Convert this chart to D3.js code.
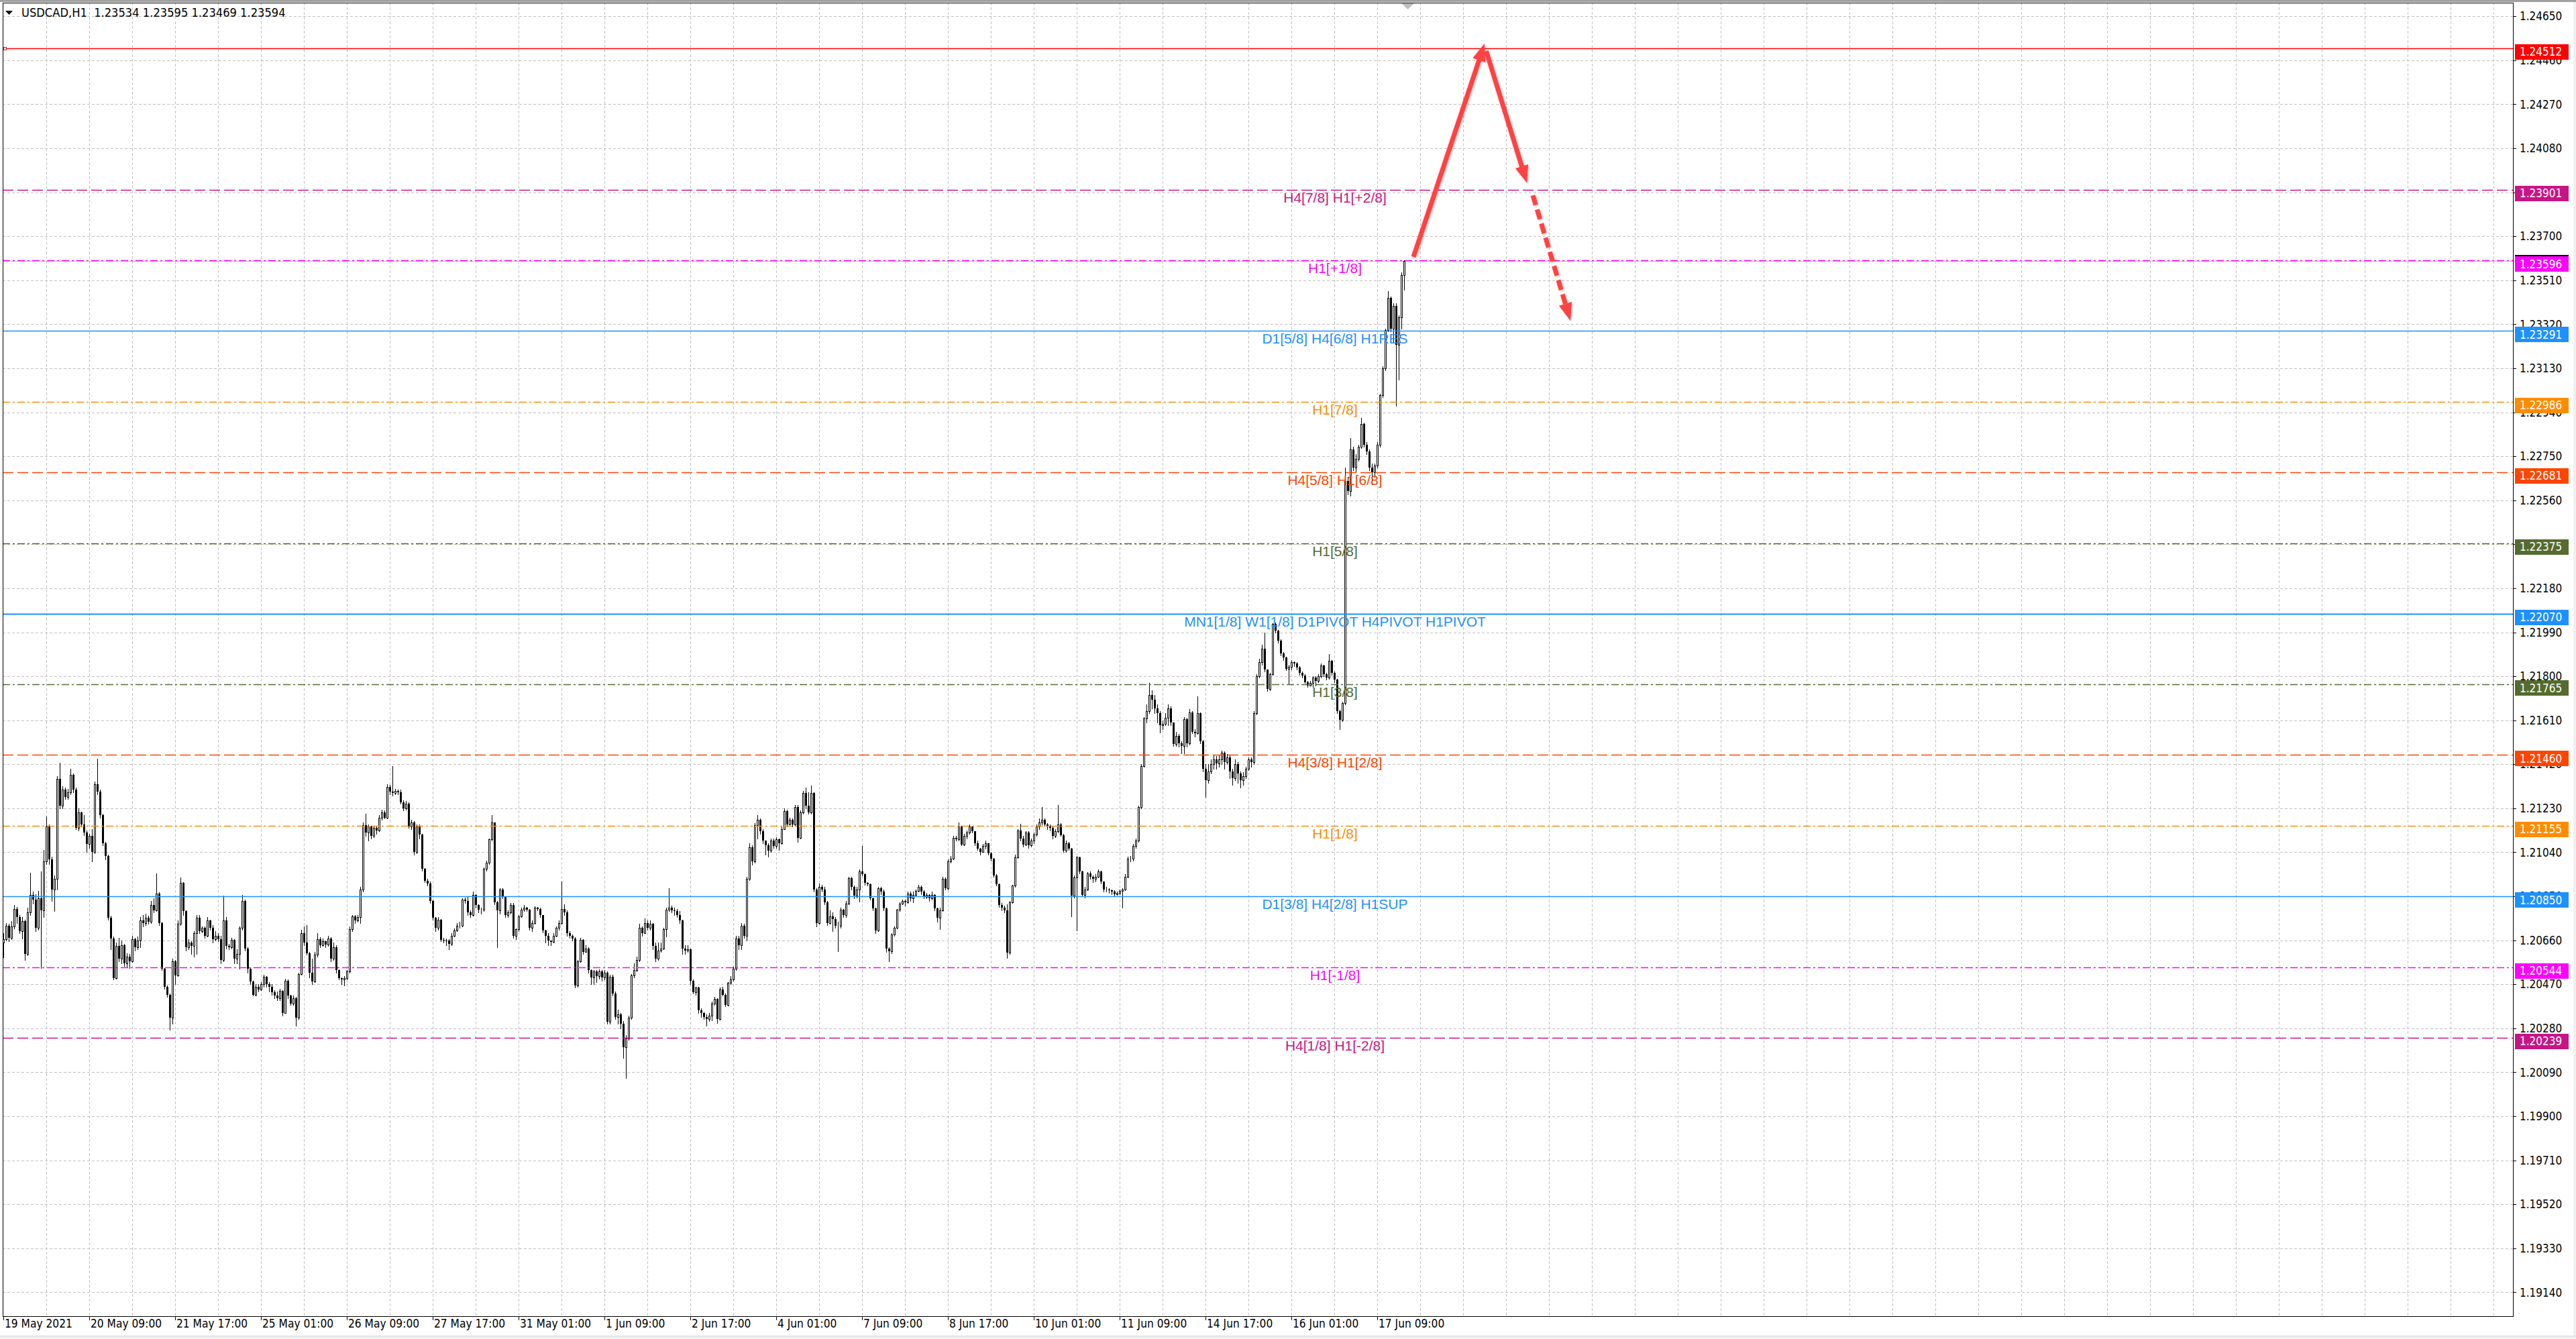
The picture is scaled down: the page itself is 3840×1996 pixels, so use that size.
<!DOCTYPE html>
<html><head><meta charset="utf-8">
<script src="https://cdn.jsdelivr.net/npm/d3@7"></script>
<style>
html,body{margin:0;padding:0;background:#F0F0F0;overflow:hidden;}
svg{display:block;}
</style></head><body>
<svg id="c" width="3840" height="1996"></svg>
<script>
// ---------------- DATA (USDCAD H1, prices in points above 1.20000) ----------------
const symbolTitle = "USDCAD,H1  1.23534 1.23595 1.23469 1.23594";
const firstOpen = 650;
const closes = [
665,724,670,720,795,760,700,742,600,780,
855,835,715,840,790,1000,1150,1010,880,924,
1357,1240,1312,1280,1300,1373,1312,1146,1212,1160,
1124,1075,1110,1040,1334,1301,1201,1079,1024,758,
669,497,636,580,640,560,590,570,664,630,
660,746,735,758,740,813,790,863,735,536,
458,425,325,569,508,730,907,785,630,650,
636,690,758,700,713,680,746,713,665,680,
665,575,746,636,630,663,580,600,713,830,
624,536,481,425,458,448,470,503,470,460,
436,420,409,442,347,486,420,387,410,325,
514,691,650,603,520,481,597,664,640,655,
641,669,580,630,531,497,491,497,525,708,
763,745,760,880,1157,1124,1150,1110,1146,1135,
1190,1212,1190,1323,1301,1295,1305,1300,1257,1230,
1251,1151,1170,1040,1150,1118,968,918,905,830,
758,713,750,663,660,658,645,680,702,724,
724,835,830,780,770,857,813,791,791,968,
996,1096,1168,824,790,880,846,769,780,813,
680,708,763,791,802,791,713,735,800,796,
769,702,680,658,652,680,713,735,796,780,
691,680,669,464,569,663,610,625,530,500,
525,505,525,500,520,309,503,431,330,340,
300,198,236,325,508,530,575,713,691,735,
713,730,636,580,615,625,708,791,802,790,
785,770,746,624,615,620,486,436,455,359,
345,330,320,335,386,408,320,447,425,381,
475,491,536,669,640,724,680,924,1062,1000,
1157,1180,1130,1090,1070,1046,1090,1068,1095,1080,
1140,1218,1160,1180,1160,1234,1102,1212,1295,1240,
1212,1295,880,735,891,880,824,735,763,752,
724,724,791,769,819,929,890,852,880,957,
946,907,902,841,797,702,886,870,797,624,
613,685,713,791,819,830,824,863,841,857,
874,891,870,846,856,841,857,797,758,790,
924,885,1001,1013,1101,1096,1150,1074,1110,1124,
1150,1130,1080,1057,1040,1068,1079,1035,1013,941,
902,813,802,790,608,825,896,1019,1135,1100,
1074,1124,1070,1090,1118,1151,1170,1180,1160,1150,
1145,1110,1130,1160,1115,1046,1080,1057,852,930,
1018,957,857,880,950,935,924,935,957,913,
880,880,875,870,860,865,872,880,935,1013,
1013,1068,1090,1234,1412,1617,1650,1720,1700,1660,
1640,1590,1595,1620,1661,1600,1509,1543,1510,1500,
1616,1510,1644,1560,1555,1640,1519,1400,1350,1390,
1420,1440,1425,1440,1470,1430,1450,1390,1360,1420,
1380,1350,1370,1400,1440,1430,1640,1799,1862,1920,
1828,1746,1809,2026,1997,1954,1900,1881,1833,1840,
1860,1855,1838,1814,1804,1775,1761,1770,1794,1780,
1799,1847,1810,1794,1867,1814,1785,1649,1611,1683,
2644,2600,2780,2700,2740,2790,2890,2800,2770,2700,
2680,2710,2799,3013,3131,3294,3434,3300,3400,3230,
3350,3534,3594];
const highs = [
690,735,730,742,812,805,768,760,748,800,
952,870,860,872,957,1050,1196,1160,1020,940,
1370,1428,1325,1320,1315,1401,1380,1320,1230,1215,
1200,1135,1120,1140,1345,1445,1310,1205,1085,1030,
765,675,650,670,660,645,605,600,680,670,
675,760,770,775,765,830,840,950,868,740,
540,465,430,580,575,745,930,910,790,665,
655,700,770,770,720,720,760,750,725,700,
690,680,852,760,645,670,665,620,720,857,
835,630,540,485,470,470,480,510,505,480,
470,445,440,450,445,495,490,425,420,415,
520,705,720,725,610,580,610,690,672,668,
660,680,672,650,640,535,500,505,530,720,
770,770,770,890,1170,1207,1160,1155,1150,1150,
1200,1225,1220,1335,1330,1412,1315,1312,1310,1265,
1262,1255,1180,1175,1160,1160,1120,972,925,915,
835,760,760,752,670,668,665,690,710,735,
740,840,845,850,790,870,860,815,800,975,
1005,1100,1201,1170,830,885,885,850,790,820,
820,712,770,800,812,805,795,745,808,805,
800,770,705,690,660,690,720,745,913,815,
790,700,685,672,575,670,665,640,630,535,
530,530,535,530,530,525,510,510,440,360,
345,310,250,335,515,560,590,730,720,755,
745,745,735,650,650,650,715,800,885,810,
800,795,785,750,640,640,625,490,460,458,
365,350,340,345,395,415,410,455,460,430,
480,505,545,680,680,735,730,935,1080,1070,
1165,1200,1185,1140,1090,1080,1100,1100,1105,1100,
1150,1230,1225,1190,1185,1245,1245,1220,1305,1318,
1300,1329,1300,885,905,900,890,830,790,780,
760,740,800,795,830,935,935,895,890,965,
1068,950,912,905,845,800,890,890,880,800,
630,690,720,795,825,835,835,870,870,870,
880,900,895,875,865,860,870,860,800,800,
935,930,1010,1025,1110,1112,1170,1155,1120,1135,
1160,1155,1130,1090,1060,1075,1090,1080,1040,1015,
945,905,820,810,815,830,900,1030,1140,1162,
1110,1130,1130,1100,1125,1160,1185,1234,1185,1165,
1160,1150,1140,1245,1165,1120,1090,1085,1060,940,
1025,1020,960,890,955,957,940,945,965,960,
915,890,885,880,875,870,880,885,945,1020,
1025,1075,1100,1240,1420,1625,1680,1772,1740,1720,
1680,1650,1610,1640,1680,1670,1600,1560,1550,1520,
1625,1620,1659,1650,1570,1712,1645,1525,1420,1420,
1440,1461,1455,1460,1480,1475,1465,1460,1400,1440,
1430,1390,1385,1410,1450,1450,1650,1810,1875,1935,
1988,1830,1815,2030,2031,2000,1960,1905,1885,1850,
1870,1865,1862,1845,1820,1810,1780,1780,1800,1800,
1810,1855,1850,1815,1895,1870,1820,1790,1655,1690,
2700,2660,2828,2790,2760,2800,2917,2895,2810,2780,
2720,2720,2810,3020,3140,3300,3464,3440,3410,3410,
3360,3545,3595];
const lows = [
586,660,655,665,712,735,690,668,575,595,
770,818,700,705,541,760,990,990,830,785,
880,1230,1230,1270,1270,1290,1300,1140,1135,1150,
1115,1040,1060,1002,1035,1290,1190,1070,1010,750,
620,490,495,570,560,550,545,540,565,615,
620,630,720,725,730,735,780,785,725,530,
450,415,275,300,470,505,725,770,615,620,
600,590,600,690,695,670,675,705,650,660,
655,560,570,625,620,625,560,560,536,705,
615,520,470,420,420,440,445,460,460,440,
425,410,400,400,335,345,410,380,380,292,
320,510,640,598,500,470,478,590,630,635,
630,635,570,575,520,490,470,465,490,520,
700,735,740,735,870,1110,1090,1100,1105,1120,
1130,1180,1185,1185,1290,1285,1290,1290,1250,1220,
1225,1145,1140,1030,1035,1100,960,910,895,820,
750,700,705,655,650,640,620,640,675,700,
715,720,820,770,760,765,800,780,775,785,
960,990,1090,815,630,775,840,760,760,775,
670,665,700,760,785,785,705,700,730,790,
760,695,650,640,640,650,675,705,730,770,
680,670,660,455,460,565,600,610,520,470,
470,480,495,485,490,300,300,420,320,300,
280,153,64,230,320,500,525,570,680,690,
705,705,620,570,575,610,620,675,785,780,
770,760,735,600,600,610,470,430,425,345,
330,320,292,310,315,380,303,318,420,375,
378,470,485,530,620,620,670,660,920,985,
995,1100,1120,1080,1030,1020,1040,1060,1060,1050,
1075,1140,1150,1160,1150,1155,1085,1100,1205,1230,
1205,1205,870,720,730,870,815,725,730,700,
715,613,715,760,760,815,880,840,845,826,
940,900,895,835,790,690,700,860,790,610,
569,605,680,710,785,815,810,820,830,825,
850,870,860,840,840,830,835,790,740,708,
785,880,880,995,1010,1090,1090,1070,1070,1100,
1120,1125,1070,1050,1030,1040,1055,1030,1005,935,
895,805,790,780,585,600,820,890,1015,1090,
1065,1070,1060,1065,1080,1110,1140,1160,1155,1140,
1135,1100,1105,1125,1110,1040,1040,1050,763,845,
702,950,850,845,875,925,910,915,930,905,
870,870,865,860,850,855,860,802,875,930,
1000,1005,1060,1085,1230,1410,1600,1640,1660,1640,
1600,1556,1570,1590,1590,1590,1500,1500,1495,1467,
1467,1495,1505,1555,1540,1550,1510,1390,1279,1340,
1380,1400,1400,1410,1420,1400,1420,1360,1330,1350,
1340,1320,1330,1360,1395,1410,1420,1635,1795,1850,
1820,1736,1740,1805,1990,1945,1890,1870,1825,1765,
1830,1845,1830,1805,1795,1770,1755,1760,1755,1760,
1775,1795,1800,1785,1790,1805,1775,1640,1572,1605,
1680,2585,2580,2690,2680,2730,2785,2790,2760,2690,
2629,2660,2700,2790,3005,3120,3290,3290,3240,2969,
3080,3300,3469];

const priceTicks = [1.24650,1.24460,1.24270,1.24080,1.23890,1.23700,1.23510,1.23320,1.23130,1.22940,
  1.22750,1.22560,1.22370,1.22180,1.21990,1.21800,1.21610,1.21420,1.21230,1.21040,
  1.20850,1.20660,1.20470,1.20280,1.20090,1.19900,1.19710,1.19520,1.19330,1.19140];
const timeLabels = ["19 May 2021","20 May 09:00","21 May 17:00","25 May 01:00","26 May 09:00","27 May 17:00",
  "31 May 01:00","1 Jun 09:00","2 Jun 17:00","4 Jun 01:00","7 Jun 09:00","8 Jun 17:00","10 Jun 01:00",
  "11 Jun 09:00","14 Jun 17:00","16 Jun 01:00","17 Jun 09:00"];
const timeLabelBars = [0,32,64,96,128,160,192,224,256,288,320,352,384,416,448,480,512];

const levelPrices = [1.24512,1.23901,1.23596,1.23291,1.22986,1.22681,1.22375,1.22070,1.21765,1.21460,1.21155,1.20850,1.20544,1.20239];
const levelTexts = ["","H4[7/8] H1[+2/8]","H1[+1/8]","D1[5/8] H4[6/8] H1RES","H1[7/8]","H4[5/8] H1[6/8]","H1[5/8]",
  "MN1[1/8] W1[1/8] D1PIVOT H4PIVOT H1PIVOT","H1[3/8]","H4[3/8] H1[2/8]","H1[1/8]","D1[3/8] H4[2/8] H1SUP","H1[-1/8]","H4[1/8] H1[-2/8]"];
const levelKinds = ["target","plus2","plus1","res","o78","r68","g58","pivot","g38","r28","o18","sup","minus1","minus2"];
const bidPrice = 1.23594;

// forecast arrows: [barFrom, pointsFrom, barTo, pointsTo, dashed]
const arrowsData = [[525.5,3611,552,4532,0],[552.6,4500,567.8,3930,0],[570,3877,584,3336,1]];

// ---------------- STYLE / LAYOUT ----------------
const BASE = 1.2, PT = 1e-5;
const toPrice = v => BASE + v * PT;
const L = 4, R = 3746, T = 4, B = 1962;
const kindStyle = {
  target:{c:"#FF0000",dash:null,w:1.3},
  plus2:{c:"#C71585",dash:"16,6",w:1.3},
  minus2:{c:"#C71585",dash:"16,6",w:1.3},
  plus1:{c:"#FF00FF",dash:"11,4,3,4",w:1.3},
  minus1:{c:"#FF00FF",dash:"11,4,3,4",w:1.3},
  res:{c:"#1E90FF",dash:null,w:1.3},
  sup:{c:"#1E90FF",dash:null,w:1.3},
  pivot:{c:"#1E90FF",dash:null,w:2.2},
  o78:{c:"#FF8C00",dash:"11,4,3,4",w:1.3},
  o18:{c:"#FF8C00",dash:"11,4,3,4",w:1.3},
  r68:{c:"#FF4500",dash:"16,6",w:1.3},
  r28:{c:"#FF4500",dash:"16,6",w:1.3},
  g58:{c:"#556B2F",dash:"11,4,3,4",w:1.3},
  g38:{c:"#556B2F",dash:"11,4,3,4",w:1.3}
};
const labelBar = 496.25;
const axisFont = "'DejaVu Sans', Verdana, sans-serif";

const svg = d3.select('#c');
const x = d3.scaleLinear().domain([0, 935.25]).range([5, R]);
const y = d3.scaleLinear().domain([1.190366, 1.247088]).range([B, T]);

// window background
svg.append('rect').attr('x',0).attr('y',0).attr('width',3840).attr('height',1996).attr('fill','#F0F0F0');
svg.append('rect').attr('x',0).attr('y',3).attr('width',3836).attr('height',1988).attr('fill','#FFFFFF');
svg.append('rect').attr('x',0).attr('y',0).attr('width',3840).attr('height',3).attr('fill','#A0A0A0');
svg.append('line').attr('x1',0).attr('x2',3840).attr('y1',1991.5).attr('y2',1991.5).attr('stroke','#D8D8D8');

// grid
const grid = svg.append('g').attr('shape-rendering','crispEdges').attr('stroke','#C0C0C0').attr('stroke-dasharray','4,3');
grid.selectAll('line.h').data(priceTicks).join('line').attr('class','h')
  .attr('x1',L).attr('x2',R).attr('y1',d=>Math.round(y(d))+0.5).attr('y2',d=>Math.round(y(d))+0.5);
const vBars = d3.range(16, 935, 16);
grid.selectAll('line.v').data(vBars).join('line').attr('class','v')
  .attr('x1',d=>Math.round(x(d))+0.5).attr('x2',d=>Math.round(x(d))+0.5).attr('y1',T).attr('y2',B);

// bid line
svg.append('line').attr('x1',L).attr('x2',R).attr('y1',Math.round(y(bidPrice))+0.5).attr('y2',Math.round(y(bidPrice))+0.5)
  .attr('stroke','#C0C0C0').attr('shape-rendering','crispEdges');

// candles
const bars = closes.map((c,i)=>{
  const o = i ? closes[i-1] : firstOpen;
  return {i, o:toPrice(o), c:toPrice(c), h:toPrice(Math.max(highs[i],o,c)), l:toPrice(Math.min(lows[i],o,c))};
});
const cg = svg.append('g').attr('shape-rendering','crispEdges');
cg.selectAll('line').data(bars).join('line')
  .attr('x1',d=>Math.round(x(d.i))+0.5).attr('x2',d=>Math.round(x(d.i))+0.5)
  .attr('y1',d=>Math.round(y(d.h))).attr('y2',d=>Math.round(y(d.l))+1)
  .attr('stroke','#000').attr('stroke-width',1);
cg.selectAll('rect').data(bars).join('rect')
  .each(function(d){
    const cx = Math.round(x(d.i));
    const top = Math.round(Math.min(y(d.o),y(d.c))), bot = Math.round(Math.max(y(d.o),y(d.c)));
    const s = d3.select(this);
    if (d.c >= d.o) {
      s.attr('x',cx-0.5).attr('y',top+0.5).attr('width',2).attr('height',Math.max(bot-top,0))
       .attr('fill','#fff').attr('stroke','#000').attr('stroke-width',1);
    } else {
      s.attr('x',cx-1).attr('y',top).attr('width',3).attr('height',Math.max(bot-top,1)).attr('fill','#000');
    }
  });

// level lines
const levels = levelPrices.map((p,k)=>({p, text:levelTexts[k], st:kindStyle[levelKinds[k]]}));
const lg = svg.append('g');
lg.selectAll('line').data(levels).join('line')
  .attr('x1',L).attr('x2',R).attr('y1',d=>Math.round(y(d.p))+0.5).attr('y2',d=>Math.round(y(d.p))+0.5)
  .attr('stroke',d=>d.st.c).attr('stroke-width',d=>d.st.w)
  .attr('stroke-dasharray',d=>d.st.dash);
lg.selectAll('text').data(levels.filter(d=>d.text)).join('text')
  .attr('x',x(labelBar)).attr('y',d=>y(d.p)+19)
  .attr('text-anchor','middle').attr('fill',d=>d.st.c)
  .style('font-family',"'Liberation Sans', Arial, sans-serif").style('font-size','21px')
  .text(d=>d.text);
// anchor square of the target line
svg.append('rect').attr('x',5.5).attr('y',Math.round(y(levelPrices[0]))-1.5).attr('width',4).attr('height',4)
  .attr('fill','#fff').attr('stroke','#FF0000');

// frame
svg.append('rect').attr('x',L+0.5).attr('y',T+0.5).attr('width',R-L).attr('height',B-T)
  .attr('fill','none').attr('stroke','#000').attr('shape-rendering','crispEdges');

// chart shift marker
svg.append('path').attr('d',`M${x(523.4)-9.5},5 L${x(523.4)+9.5},5 L${x(523.4)},14 Z`).attr('fill','#BEBEBE');

// y axis ticks and labels
const ya = svg.append('g');
ya.selectAll('line').data(priceTicks).join('line')
  .attr('x1',R).attr('x2',R+5).attr('y1',d=>Math.round(y(d))+0.5).attr('y2',d=>Math.round(y(d))+0.5)
  .attr('stroke','#000').attr('shape-rendering','crispEdges');
ya.selectAll('text').data(priceTicks).join('text')
  .attr('transform',d=>`translate(3756,${y(d)+6.2}) scale(0.9,1)`)
  .style('font-family',axisFont).style('font-size','17px').attr('fill','#000')
  .text(d=>d.toFixed(5));

// price label boxes
const boxes = [{p:bidPrice,c:'#000000',off:-9}].concat(levels.map(d=>({p:d.p,c:d.st.c,off:-6})));
const bg = svg.append('g');
boxes.forEach(b=>{
  const yy = y(b.p);
  bg.append('rect').attr('x',3749).attr('y',Math.round(yy+b.off)).attr('width',80).attr('height',23).attr('fill',b.c);
  bg.append('text').attr('transform',`translate(3756,${yy+b.off+17.5}) scale(0.9,1)`)
    .style('font-family',axisFont).style('font-size','17px').attr('fill','#fff').text(b.p.toFixed(5));
});

// x axis ticks & labels
const xa = svg.append('g');
xa.selectAll('line').data(timeLabelBars).join('line')
  .attr('x1',d=>Math.round(x(d))+0.5).attr('x2',d=>Math.round(x(d))+0.5).attr('y1',B).attr('y2',B+6)
  .attr('stroke','#000').attr('shape-rendering','crispEdges');
xa.selectAll('text').data(timeLabelBars).join('text')
  .attr('transform',d=>`translate(${x(d)+2},1979) scale(0.91,1)`)
  .style('font-family',axisFont).style('font-size','17px').attr('fill','#000')
  .text((d,k)=>timeLabels[k]);

// title
svg.append('path').attr('d','M8,16 L19,16 L13.5,22 Z').attr('fill','#000');
svg.append('text').attr('transform','translate(32,25) scale(0.96,1)')
  .attr('xml:space','preserve').style('white-space','pre')
  .style('font-family',axisFont).style('font-size','17px').attr('fill','#000').text(symbolTitle);

// forecast arrows
const defs = svg.append('defs');
const f = defs.append('filter').attr('id','sh').attr('x','-20%').attr('y','-20%').attr('width','140%').attr('height','140%');
f.append('feDropShadow').attr('dx',1.5).attr('dy',1.5).attr('stdDeviation',1.5).attr('flood-color','#000').attr('flood-opacity',0.25);
const ag = svg.append('g').attr('filter','url(#sh)');
arrowsData.forEach(a=>{
  const x1 = x(a[0]), y1 = y(toPrice(a[1])), x2 = x(a[2]), y2 = y(toPrice(a[3]));
  const dx = x2-x1, dy = y2-y1, len = Math.hypot(dx,dy), ux = dx/len, uy = dy/len;
  const hl = 26, hw = 10;
  const bx = x2-ux*hl, by = y2-uy*hl;
  ag.append('line').attr('x1',x1).attr('y1',y1).attr('x2',bx+ux*2).attr('y2',by+uy*2)
    .attr('stroke','#FF4343').attr('stroke-width',7).attr('stroke-dasharray',a[4]?'15,7':null);
  ag.append('path').attr('d',`M${x2},${y2} L${bx-uy*hw},${by+ux*hw} L${bx+uy*hw},${by-ux*hw} Z`).attr('fill','#FF4343');
});
</script>
</body></html>
